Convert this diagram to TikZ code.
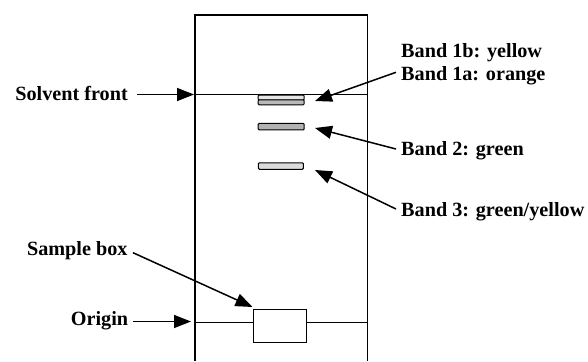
\documentclass[tikz,border=0pt]{standalone}
\usepackage{fontspec}
\setmainfont{Liberation Serif}
\usetikzlibrary{arrows.meta}
\begin{document}
\begin{tikzpicture}[x=1pt,y=-1pt,
  lbl/.style={inner sep=0pt, font=\fontsize{20.2}{24}\selectfont\bfseries},
  plate/.style={line width=1.6pt},
  ptr/.style={line width=1.5pt, -{Triangle[length=17pt,width=13pt]}},
  band/.style={draw, line width=1pt, rounded corners=1pt, inner sep=0pt, minimum width=46pt, minimum height=5pt}]
\useasboundingbox (0,0) rectangle (588,361);
% plate
\coordinate (pbl) at (195,361);
\coordinate (ptl) at (195,15);
\coordinate (ptr) at (367.5,15);
\coordinate (pbr) at (367.5,361);
\draw[plate] (pbl) -- (ptl) -- (ptr) -- (pbr);
% solvent front line
\coordinate (sfl) at (195,94.5);
\coordinate (sfr) at (367.5,94.5);
\draw[plate] (sfl) -- (sfr);
% sample box and origin line
\node[draw, line width=1.4pt, minimum width=53pt, minimum height=33pt, inner sep=0pt] (sb) at (280,325.7) {};
\coordinate (ol) at (195,322.5);
\coordinate (or) at (367.5,322.5);
\draw[plate] (ol) -- (ol -| sb.west);
\draw[plate] (sb.east |- or) -- (or);
% bands
\node[band, fill=gray!20, minimum height=5pt] (b1b) at (281.2,97.5) {};
\node[band, fill=gray!55, minimum height=5pt] (b1a) at (281.2,102.3) {};
\node[band, fill=gray!60, minimum height=6.5pt] (b2) at (281.2,126.6) {};
\node[band, fill=gray!28, minimum height=6.5pt, minimum width=45pt] (b3) at (280.8,166) {};
% labels
\node[lbl, anchor=base east] (sf) at (128,100) {Solvent front};
\node[lbl, anchor=base east] (sbl) at (127.7,255) {Sample box};
\node[lbl, anchor=base east] (og) at (128.3,325.7) {Origin};
\node[lbl, anchor=base west] (l1b) at (401,57) {Band 1b: yellow};
\node[lbl, anchor=base west] (l1a) at (401,80) {Band 1a: orange};
\node[lbl, anchor=base west] (l2) at (401,155) {Band 2: green};
\node[lbl, anchor=base west] (l3) at (401,216.5) {Band 3: green/yellow};
% arrow ends
\coordinate (sfs) at (137,94.5);  \coordinate (sft) at (194,94.5);
\coordinate (ogs) at (133,321.5); \coordinate (ogt) at (191,321.5);
\coordinate (sbs) at (133,252.7); \coordinate (sbt) at (252.5,307);
\coordinate (a1s) at (396,72.3);  \coordinate (a1t) at (315,101);
\coordinate (a2s) at (396,149);   \coordinate (a2t) at (315,128);
\coordinate (a3s) at (396,209);   \coordinate (a3t) at (315,170);
\draw[ptr] (sfs) -- (sft);
\draw[ptr] (ogs) -- (ogt);
\draw[ptr] (sbs) -- (sbt);
\draw[ptr] (a1s) -- (a1t);
\draw[ptr] (a2s) -- (a2t);
\draw[ptr] (a3s) -- (a3t);
\end{tikzpicture}
\end{document}
